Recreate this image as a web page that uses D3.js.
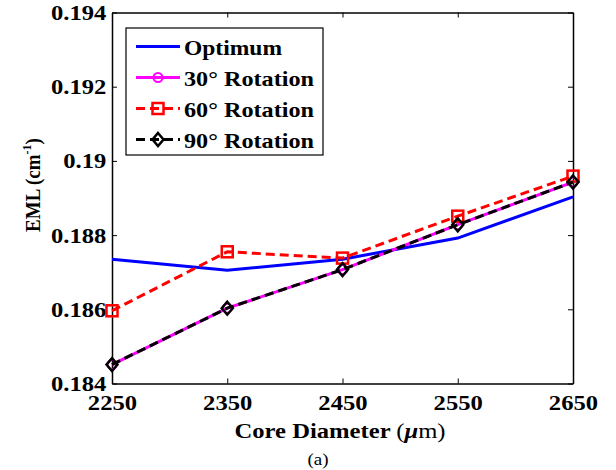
<!doctype html>
<html>
<head>
<meta charset="UTF-8">
<title>EML vs core diameter</title>
<style>
	body { margin: 0; background: #fff; }
	svg text { font-family: "Liberation Serif", "Times New Roman", serif; }
</style>
</head>
<body>
<script src="https://cdn.jsdelivr.net/npm/d3@7/dist/d3.min.js"></script>
<script>
	// data
	var diameters = [2250, 2350, 2450, 2550, 2650];
	var optimum = [0.18735, 0.18705, 0.18735, 0.18792, 0.18903];
	var rot30 = [0.18451, 0.18603, 0.18707, 0.18828, 0.18943];
	var rot60 = [0.18596, 0.18755, 0.18738, 0.18851, 0.18959];
	var rot90 = [0.18451, 0.18603, 0.18707, 0.18828, 0.18943];
	var yTicks = [0.184, 0.186, 0.188, 0.19, 0.192, 0.194];

	var w = 616, h = 470,
		m = {left: 112, right: 43, top: 12.5, bottom: 86.5},
		stretch = 1.12; // the source figure is a bit wider than tall

	var svg = d3.select('body').append('svg')
		.attr('width', w)
		.attr('height', h);

	var x = d3.scaleLinear().domain([2250, 2650]).range([m.left, w - m.right]);
	var y = d3.scaleLinear().domain([0.184, 0.194]).range([h - m.bottom, m.top]);

	// axes, ticks pointing inward
	var fmt = function(d) { return String(+d.toFixed(3)); };
	svg.append('g').attr('transform', 'translate(0,' + (h - m.bottom) + ')')
		.call(d3.axisBottom(x).tickValues(diameters).tickSizeInner(-5).tickSizeOuter(0).tickPadding(11).tickFormat(d3.format('d')));
	svg.append('g').attr('transform', 'translate(0,' + m.top + ')')
		.call(d3.axisTop(x).tickValues(diameters).tickSizeInner(-5).tickSizeOuter(0).tickFormat(''));
	svg.append('g').attr('transform', 'translate(' + m.left + ',0)')
		.call(d3.axisLeft(y).tickValues(yTicks).tickSizeInner(-5).tickSizeOuter(0).tickPadding(5).tickFormat(fmt));
	svg.append('g').attr('transform', 'translate(' + (w - m.right) + ',0)')
		.call(d3.axisRight(y).tickValues(yTicks).tickSizeInner(-5).tickSizeOuter(0).tickFormat(''));
	svg.selectAll('.domain').attr('stroke', '#000').attr('stroke-width', 1.5);
	svg.selectAll('.tick line').attr('stroke', '#000');
	svg.selectAll('.tick text')
		.style('font-size', '22px')
		.style('font-weight', 'bold')
		.style('font-family', '"Liberation Serif", "Times New Roman", serif')
		.attr('fill', '#000')
		.attr('transform', 'scale(' + stretch + ',1)');

	var line = d3.line()
		.x(function(d, i) { return x(diameters[i]); })
		.y(function(d) { return y(d); });

	var series = [
		{name: 'Optimum', vals: optimum, color: '#0000ff', dash: null, mark: null, len: 98},
		{name: '30\u00b0 Rotation', vals: rot30, color: '#ff00ff', dash: null, mark: 'circle', len: 130},
		{name: '60\u00b0 Rotation', vals: rot60, color: '#ff0000', dash: '9,5', mark: 'square', len: 130},
		{name: '90\u00b0 Rotation', vals: rot90, color: '#000000', dash: '9,5', mark: 'diamond', len: 130}
	];

	var plot = svg.append('g');

	var drawMark = function(g, s, cx, cy) {
		if (s.mark === 'circle') {
			g.append('circle').attr('cx', cx).attr('cy', cy).attr('r', 4.5)
				.attr('fill', 'none').attr('stroke', s.color).attr('stroke-width', 2);
		} else if (s.mark === 'square') {
			g.append('rect').attr('x', cx - 5.5).attr('y', cy - 5.5).attr('width', 11).attr('height', 11)
				.attr('fill', 'none').attr('stroke', s.color).attr('stroke-width', 2.5);
		} else if (s.mark === 'diamond') {
			g.append('path').attr('d', 'M' + cx + ',' + (cy - 6.5) + 'L' + (cx + 5.5) + ',' + cy + 'L' + cx + ',' + (cy + 6.5) + 'L' + (cx - 5.5) + ',' + cy + 'Z')
				.attr('fill', 'none').attr('stroke', s.color).attr('stroke-width', 2.5);
		}
	};

	series.forEach(function(s) {
		plot.append('path').datum(s.vals)
			.attr('d', line)
			.attr('fill', 'none')
			.attr('stroke', s.color)
			.attr('stroke-width', 3)
			.attr('stroke-dasharray', s.dash);
		s.vals.forEach(function(v, i) {
			drawMark(plot, s, x(diameters[i]), y(v));
		});
	});

	// legend
	var lg = svg.append('g').attr('transform', 'translate(126,28)');
	lg.append('rect').attr('width', 197).attr('height', 127)
		.attr('fill', '#fff').attr('stroke', '#000').attr('stroke-width', 1.2);
	series.forEach(function(s, i) {
		var ly = 18.5 + i * 31;
		lg.append('line').attr('x1', 10).attr('x2', 54).attr('y1', ly).attr('y2', ly)
			.attr('stroke', s.color).attr('stroke-width', 3).attr('stroke-dasharray', s.dash);
		drawMark(lg, s, 32, ly);
		lg.append('text').attr('x', 58).attr('y', ly + 8)
			.attr('font-size', 22).attr('font-weight', 'bold')
			.attr('textLength', s.len).attr('lengthAdjust', 'spacingAndGlyphs')
			.text(s.name);
	});

	// axis labels
	var xl = svg.append('text')
		.attr('transform', 'translate(340,438) scale(' + stretch + ',1)')
		.attr('text-anchor', 'middle')
		.attr('font-size', 22);
	xl.append('tspan').attr('font-weight', 'bold').text('Core Diameter ');
	xl.append('tspan').text('(');
	xl.append('tspan').attr('font-weight', 'bold').attr('font-style', 'italic').text('\u03bc');
	xl.append('tspan').text('m)');

	var yl = svg.append('text')
		.attr('transform', 'translate(40,185) scale(' + stretch + ',1) rotate(-90)')
		.attr('text-anchor', 'middle').attr('font-size', 19).attr('font-weight', 'bold');
	yl.append('tspan').text('EML (cm');
	yl.append('tspan').attr('dy', -8).attr('font-size', 12).text('-1');
	yl.append('tspan').attr('dy', 8).text(')');

	svg.append('text')
		.attr('transform', 'translate(318,465) scale(' + stretch + ',1)')
		.attr('text-anchor', 'middle')
		.attr('font-size', 17).text('(a)');
</script>
</body>
</html>
